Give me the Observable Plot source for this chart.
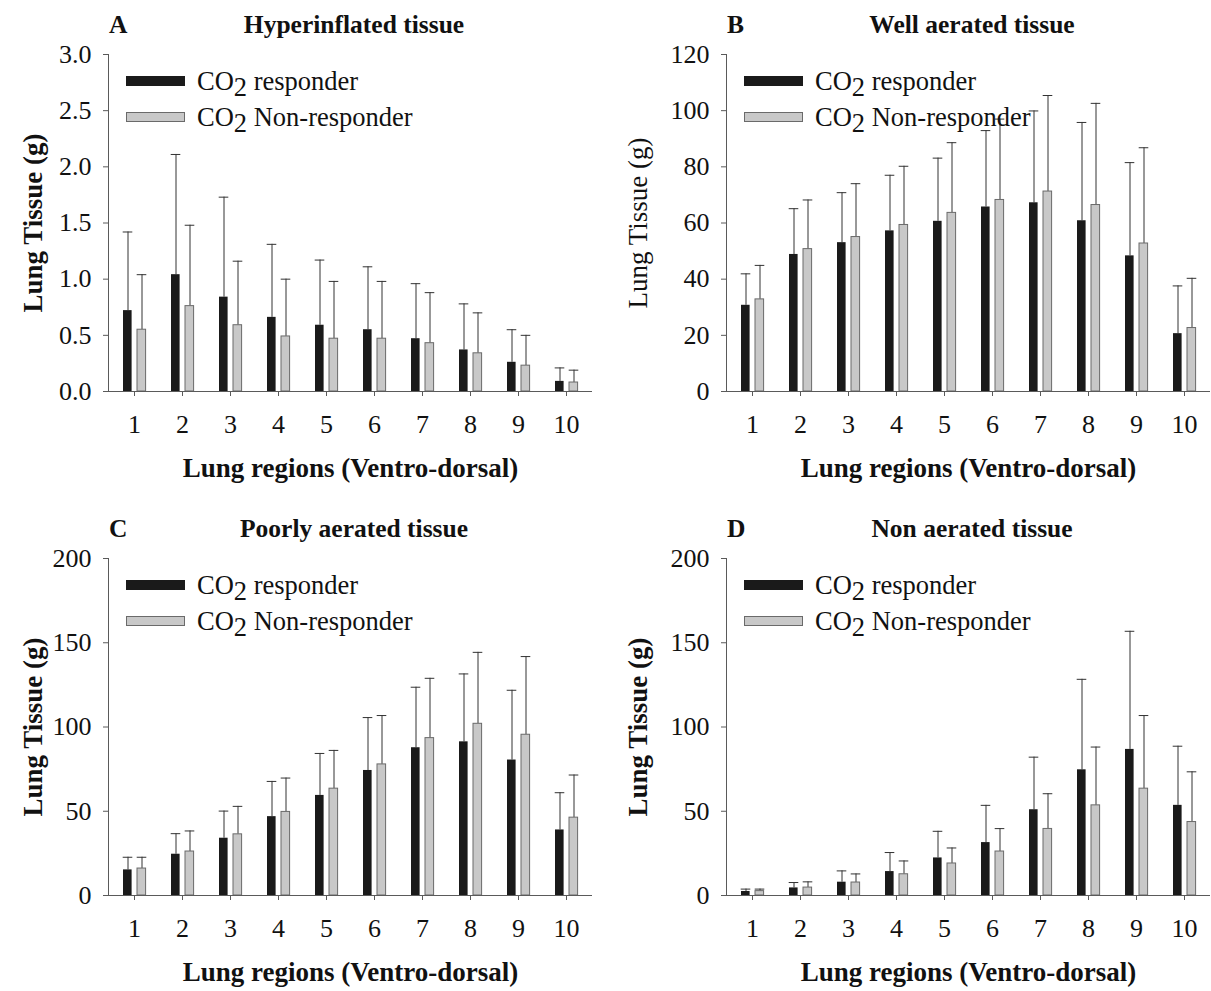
<!DOCTYPE html>
<html><head><meta charset="utf-8">
<script src="https://cdn.jsdelivr.net/npm/d3@7"></script>
<script src="https://cdn.jsdelivr.net/npm/@observablehq/plot@0.6"></script>
<style>
body{margin:0;background:#fff;font-family:"Liberation Serif","Times New Roman",serif;}
#wrap{position:relative;width:1211px;height:991px;overflow:hidden;}
.panel{position:absolute;}
.letter,.title{position:absolute;font-weight:bold;font-size:25.5px;color:#111;line-height:1;white-space:nowrap;}
.title{transform:translateX(-50%);}
.legend{position:absolute;font-size:26.5px;color:#111;line-height:1;}
.legend .row{display:flex;align-items:center;height:36px;white-space:nowrap;}
.legend .sw{width:59px;height:10px;margin-right:12px;box-sizing:border-box;}
.legend .sub{position:relative;top:6px;}
.bold g[aria-label="y-axis label"] text{font-weight:bold;}
g[aria-label="x-axis label"] text{font-weight:bold;}
g[aria-label="y-axis label"] text, g[aria-label="x-axis label"] text{font-size:27px;}
</style></head>
<body><div id="wrap"></div>
<script>
const regions = [1,2,3,4,5,6,7,8,9,10];
const seriesNames = ["CO2 responder", "CO2 Non-responder"];

// A: Hyperinflated tissue
const hyperResp   = [0.72,1.04,0.84,0.66,0.59,0.55,0.47,0.37,0.26,0.09];
const hyperRespSD = [0.70,1.07,0.89,0.65,0.58,0.56,0.49,0.41,0.29,0.12];
const hyperNon    = [0.55,0.76,0.59,0.49,0.47,0.47,0.43,0.34,0.23,0.08];
const hyperNonSD  = [0.49,0.72,0.57,0.51,0.51,0.51,0.45,0.36,0.27,0.11];
// B: Well aerated tissue
const wellResp   = [30.7,48.8,53.0,57.2,60.6,65.7,67.2,60.8,48.3,20.6];
const wellRespSD = [11.2,16.3,17.8,19.8,22.5,27.2,32.7,35.0,33.2,17.0];
const wellNon    = [32.8,50.7,55.0,59.3,63.6,68.2,71.2,66.4,52.7,22.6];
const wellNonSD  = [12.1,17.5,19.0,20.9,25.0,28.8,34.2,36.2,34.1,17.7];
// C: Poorly aerated tissue
const poorResp   = [15.2,24.5,34.0,46.8,59.4,74.2,87.7,91.2,80.4,38.9];
const poorRespSD = [7.5,12.2,16.1,20.9,24.9,31.4,35.9,40.3,41.4,22.1];
const poorNon    = [16.0,26.1,36.3,49.6,63.4,77.8,93.4,101.9,95.4,46.2];
const poorNonSD  = [6.7,12.2,16.6,20.1,22.7,29.0,35.5,42.4,46.4,25.3];
// D: Non aerated tissue
const nonaResp   = [2.4,4.5,7.9,14.2,22.3,31.4,50.9,74.6,86.7,53.5];
const nonaRespSD = [1.4,3.2,6.7,11.3,15.8,22.1,31.2,53.7,70.1,35.1];
const nonaNon    = [2.6,4.7,7.7,12.6,19.0,26.1,39.5,53.5,63.4,43.6];
const nonaNonSD  = [1.2,3.4,5.1,7.9,9.2,13.6,20.9,34.6,43.4,29.8];

const ticksA = [0,0.5,1,1.5,2,2.5,3];
const ticksB = [0,20,40,60,80,100,120];
const ticksCD = [0,50,100,150,200];

const panels = [
  {letter:"A", title:"Hyperinflated tissue", resp:hyperResp, respSD:hyperRespSD, non:hyperNon, nonSD:hyperNonSD,
   ticks:ticksA, fmt:d3.format(".1f"), left:0, top:0, width:605, height:495, mL:108, mR:13, mT:54, mB:104, bold:true},
  {letter:"B", title:"Well aerated tissue", resp:wellResp, respSD:wellRespSD, non:wellNon, nonSD:wellNonSD,
   ticks:ticksB, fmt:d3.format("d"), left:605, top:0, width:606, height:495, mL:121, mR:1, mT:54, mB:104, bold:false},
  {letter:"C", title:"Poorly aerated tissue", resp:poorResp, respSD:poorRespSD, non:poorNon, nonSD:poorNonSD,
   ticks:ticksCD, fmt:d3.format("d"), left:0, top:495, width:605, height:496, mL:108, mR:13, mT:63, mB:96, bold:true},
  {letter:"D", title:"Non aerated tissue", resp:nonaResp, respSD:nonaRespSD, non:nonaNon, nonSD:nonaNonSD,
   ticks:ticksCD, fmt:d3.format("d"), left:605, top:495, width:606, height:496, mL:121, mR:1, mT:63, mB:96, bold:true}
];

const wrap = document.getElementById("wrap");
const axisColor = "#5a5a5a";
const errColor = "#333";

for (const p of panels) {
  const rows = regions.map((r,i)=>({region:r, resp:p.resp[i], respTop:p.resp[i]+p.respSD[i], non:p.non[i], nonTop:p.non[i]+p.nonSD[i]}));
  const chart = Plot.plot({
    width:p.width, height:p.height,
    marginLeft:p.mL, marginRight:p.mR, marginTop:p.mT, marginBottom:p.mB,
    style:{fontFamily:"'Liberation Serif','Times New Roman',serif", fontSize:"26px", color:"#111", background:"transparent", overflow:"visible"},
    x:{type:"band", domain:regions, padding:0},
    y:{domain:[0, p.ticks[p.ticks.length-1]]},
    marks:[
      Plot.ruleX(rows, {x:"region", y1:"resp", y2:"respTop", dx:-6.5, stroke:errColor, strokeWidth:1}),
      Plot.tickY(rows, {x:"region", y:"respTop", insetLeft:12.7, insetRight:25.7, stroke:errColor, strokeWidth:1}),
      Plot.ruleX(rows, {x:"region", y1:"non", y2:"nonTop", dx:7.5, stroke:errColor, strokeWidth:1}),
      Plot.tickY(rows, {x:"region", y:"nonTop", insetLeft:26.7, insetRight:11.7, stroke:errColor, strokeWidth:1}),
      Plot.barY(rows, {x:"region", y:"resp", fill:"#1a1a1a", insetLeft:13, insetRight:26.4}),
      Plot.barY(rows, {x:"region", y:"non", fill:"#c8c8c8", stroke:"#6a6a6a", strokeWidth:1, insetLeft:27, insetRight:12.4}),
      Plot.axisY({ticks:p.ticks, tickFormat:p.fmt, tickSize:5, tickPadding:12, stroke:axisColor,
        label:"Lung Tissue (g)", labelAnchor:"center", labelArrow:"none", labelOffset:p.mL-22}),
      Plot.axisX({tickSize:5, tickPadding:18, stroke:axisColor,
        label:"Lung regions (Ventro-dorsal)", labelAnchor:"center", labelArrow:"none", labelOffset:85}),
      Plot.frame({anchor:"left", stroke:axisColor}),
      Plot.ruleY([0], {insetLeft:-5, stroke:axisColor})
    ]
  });
  const div = document.createElement("div");
  div.className = "panel" + (p.bold ? " bold" : "");
  div.style.left = p.left + "px"; div.style.top = p.top + "px";
  div.appendChild(chart);
  wrap.appendChild(div);

  const letter = document.createElement("div");
  letter.className = "letter"; letter.textContent = p.letter;
  letter.style.left = (p.left + p.mL + 1) + "px"; letter.style.top = (p.top + p.mT - 42) + "px";
  wrap.appendChild(letter);

  const title = document.createElement("div");
  title.className = "title"; title.textContent = p.title;
  title.style.left = (p.left + p.mL + (p.width - p.mL - p.mR)/2 + 4) + "px"; title.style.top = (p.top + p.mT - 42) + "px";
  wrap.appendChild(title);

  const leg = document.createElement("div");
  leg.className = "legend";
  leg.style.left = (p.left + p.mL + 18) + "px"; leg.style.top = (p.top + p.mT + 9) + "px";
  const fills = [["#1a1a1a","none"],["#c8c8c8","1px solid #6a6a6a"]];
  seriesNames.forEach((name,i)=>{
    const row = document.createElement("div"); row.className = "row";
    const sw = document.createElement("div"); sw.className = "sw";
    sw.style.background = fills[i][0]; sw.style.border = fills[i][1];
    const txt = document.createElement("span");
    const rest = name.slice(3);
    txt.innerHTML = 'CO<span class="sub">2</span> ' + rest;
    row.appendChild(sw); row.appendChild(txt);
    leg.appendChild(row);
  });
  wrap.appendChild(leg);
}
</script></body></html>
